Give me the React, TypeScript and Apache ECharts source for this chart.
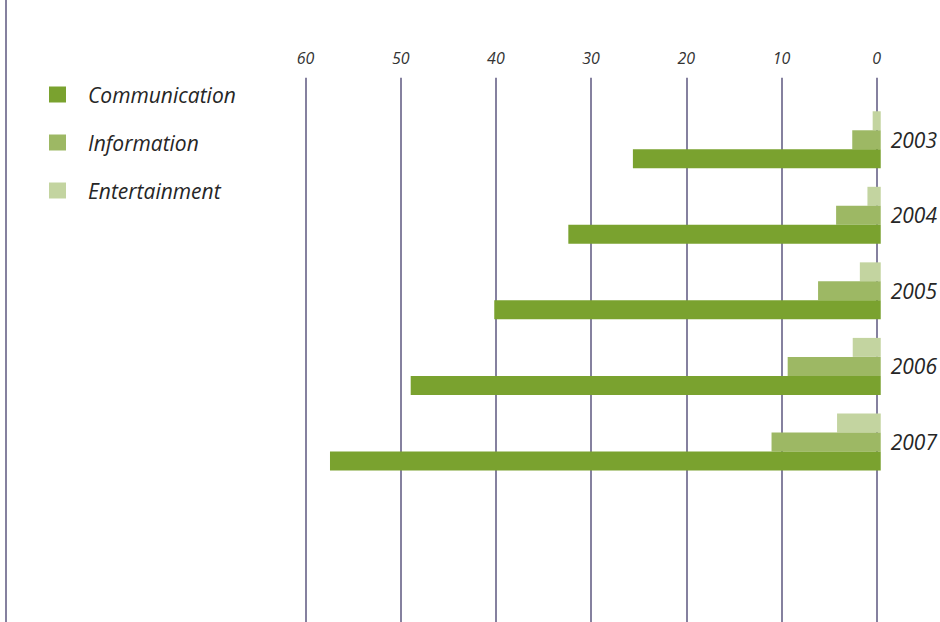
import React, { useEffect, useRef } from "react";
import * as echarts from "echarts";

const years = ["2003", "2004", "2005", "2006", "2007"];
const communication = [26.1, 32.9, 40.7, 49.5, 58.0];
const information = [3.0, 4.7, 6.6, 9.8, 11.5];
const entertainment = [0.85, 1.4, 2.2, 2.95, 4.6];
const legendOrder = ["Communication", "Information", "Entertainment"];

const COLORS = {
  Communication: "#7aa22f",
  Information: "#9db864",
  Entertainment: "#c3d4a0",
};
const GRID_COLOR = "#85819f";
const FONT = "'Open Sans', 'DejaVu Sans', sans-serif";

export default function App() {
  const ref = useRef<HTMLDivElement>(null);
  useEffect(() => {
    if (!ref.current) return;
    const chart = echarts.init(ref.current, undefined, { renderer: "svg" });
    chart.setOption({
      animation: false,
      backgroundColor: "#ffffff",
      textStyle: { fontFamily: FONT },
      legend: {
        data: legendOrder,
        orient: "vertical",
        left: 49,
        top: 84,
        padding: 0,
        icon: "rect",
        itemWidth: 17,
        itemHeight: 16,
        itemGap: 27,
        textStyle: {
          fontFamily: FONT,
          fontStyle: "italic",
          fontSize: 21,
          lineHeight: 21,
          color: "#262626",
          padding: [0, 0, 0, 17],
        },
      },
      grid: [
        { left: 305.5, right: 63.3, top: 77.7, bottom: 0 },
        { left: 311, right: 58, top: 102, bottom: 142.3 },
      ],
      xAxis: [
        {
          gridIndex: 0,
          type: "value",
          min: 0,
          max: 60,
          interval: 10,
          inverse: true,
          position: "top",
          axisLine: { show: false },
          axisTick: { show: false },
          splitLine: { show: true, lineStyle: { color: GRID_COLOR, width: 2 } },
          axisLabel: {
            fontFamily: FONT,
            fontStyle: "italic",
            fontSize: 16,
            color: "#333333",
            margin: 12,
          },
        },
        {
          gridIndex: 1,
          type: "value",
          min: 0,
          max: 60,
          inverse: true,
          show: false,
          splitLine: { show: false },
        },
      ],
      yAxis: [
        { gridIndex: 0, type: "value", show: false, splitLine: { show: false } },
        {
          gridIndex: 1,
          type: "category",
          data: years,
          inverse: true,
          position: "right",
          axisLine: { show: false },
          axisTick: { show: false },
          axisLabel: {
            fontFamily: FONT,
            fontStyle: "italic",
            fontSize: 21,
            color: "#262626",
            margin: 10,
          },
        },
      ],
      graphic: [
        {
          type: "line",
          shape: { x1: 6, y1: 0, x2: 6, y2: 622 },
          style: { stroke: GRID_COLOR, lineWidth: 2 },
          silent: true,
        },
      ],
      series: [
        {
          name: "Entertainment",
          type: "bar",
          xAxisIndex: 1,
          yAxisIndex: 1,
          data: entertainment,
          barWidth: 19,
          barGap: "0%",
          itemStyle: { color: COLORS.Entertainment },
        },
        {
          name: "Information",
          type: "bar",
          xAxisIndex: 1,
          yAxisIndex: 1,
          data: information,
          barWidth: 19,
          barGap: "0%",
          itemStyle: { color: COLORS.Information },
        },
        {
          name: "Communication",
          type: "bar",
          xAxisIndex: 1,
          yAxisIndex: 1,
          data: communication,
          barWidth: 19,
          barGap: "0%",
          itemStyle: { color: COLORS.Communication },
        },
      ],
    });
    return () => chart.dispose();
  }, []);
  return (
    <div
      ref={ref}
      style={{ position: "absolute", left: 0, top: 0, width: 940, height: 622 }}
    />
  );
}
